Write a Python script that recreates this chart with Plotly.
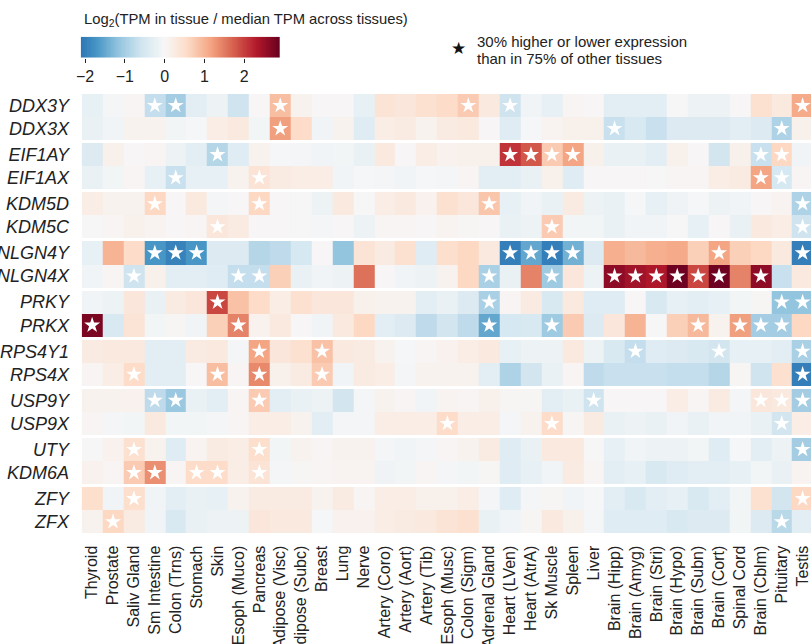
import plotly.graph_objects as go

tissues = ["Thyroid", "Prostate", "Saliv Gland", "Sm Intestine", "Colon (Trns)", "Stomach", "Skin",
           "Esoph (Muco)", "Pancreas", "Adipose (Visc)", "Adipose (Subc)", "Breast", "Lung", "Nerve",
           "Artery (Coro)", "Artery (Aort)", "Artery (Tib)", "Esoph (Musc)", "Colon (Sigm)", "Adrenal Gland",
           "Heart (LVen)", "Heart (AtrA)", "Sk Muscle", "Spleen", "Liver", "Brain (Hipp)", "Brain (Amyg)",
           "Brain (Stri)", "Brain (Hypo)", "Brain (Subn)", "Brain (Cort)", "Spinal Cord", "Brain (Cblm)",
           "Pituitary", "Testis"]

genes = ["DDX3Y", "DDX3X", "EIF1AY", "EIF1AX", "KDM5D", "KDM5C", "NLGN4Y", "NLGN4X", "PRKY", "PRKX",
         "RPS4Y1", "RPS4X", "USP9Y", "USP9X", "UTY", "KDM6A", "ZFY", "ZFX"]

# log2(TPM in tissue / median TPM across tissues), one list per gene, in tissue order
DDX3Y = [-0.25, -0.05, 0.05, -0.7, -1.0, -0.3, -0.15, -0.6, 0.0, 0.9, 0.1, 0.0, 0.0, -0.25, 0.4, 0.35, 0.45, 0.55,
         0.75, 0.3, -0.6, -0.1, -0.25, 0.05, 0.0, -0.3, -0.3, -0.3, -0.02, -0.15, -0.15, 0.0, 0.45, 0.3, 1.1]
DDX3X = [-0.2, -0.1, 0.1, 0.1, -0.08, -0.03, 0.2, 0.3, -0.08, 1.2, 0.55, -0.1, 0.1, -0.35, 0.2, 0.25, 0.1, 0.25,
         0.3, 0.0, -0.35, -0.03, 0.08, 0.15, 0.15, -0.65, -0.45, -0.65, -0.4, -0.4, -0.4, -0.3, -0.4, -0.9, 0.15]
EIF1AY = [-0.4, 0.15, 0.0, 0.05, -0.15, -0.3, -0.85, -0.35, 0.1, -0.03, -0.05, -0.1, -0.08, -0.2, 0.3, 0.0, 0.2,
          0.12, 0.15, 0.15, 2.1, 1.8, 0.75, 1.15, 0.15, -0.2, -0.2, -0.3, 0.15, 0.0, -0.55, 0.15, -0.65, 0.6, -0.1]
EIF1AX = [-0.2, -0.08, 0.05, -0.25, -0.65, -0.25, -0.25, 0.1, 0.4, 0.25, 0.2, 0.2, -0.1, -0.03, -0.05, -0.1, -0.03,
          -0.05, 0.05, -0.3, -0.3, -0.2, 0.15, -0.35, 0.0, 0.0, 0.0, -0.02, 0.05, 0.05, 0.2, 0.25, 1.15, -0.5, 0.05]
KDM5D = [0.2, 0.1, 0.1, 0.6, 0.0, 0.3, -0.05, 0.0, 0.6, 0.0, -0.02, -0.15, 0.3, -0.02, 0.2, 0.3, 0.12, 0.45, 0.35,
         0.8, -0.25, -0.1, -0.2, 0.25, -0.15, -0.2, -0.03, -0.25, -0.12, -0.03, -0.15, -0.1, 0.0, 0.08, -0.9]
KDM5C = [-0.02, 0.05, 0.15, 0.08, 0.0, 0.05, 0.35, 0.25, 0.0, 0.0, -0.02, -0.05, 0.0, -0.15, 0.05, 0.05, 0.0, 0.08,
         0.02, 0.0, -0.2, -0.15, 0.75, -0.08, -0.08, -0.2, -0.1, -0.1, -0.02, -0.25, 0.0, -0.2, 0.3, 0.2, -0.6]
NLGN4Y = [-0.25, 1.0, 0.55, -1.7, -1.95, -1.7, -0.4, -0.4, -0.85, -0.75, -0.5, 0.0, -1.15, 0.4, 0.25, 0.45, -0.35,
          0.5, 0.6, 0.3, -2.0, -1.5, -2.0, -1.4, -0.4, 1.05, 0.95, 1.05, 1.1, 0.7, 1.15, 0.7, 0.6, 0.3, -2.0]
NLGN4X = [-0.1, 0.05, -0.6, 0.15, -0.3, -0.3, -0.35, -0.7, -0.7, 0.7, -0.2, -0.1, -0.15, 1.6, 0.0, -0.1, -0.15,
          0.1, 0.6, -0.95, -0.2, 1.45, -1.05, 0.35, -0.15, 2.6, 2.45, 2.35, 2.85, 1.95, 2.85, 1.45, 2.6, -0.65, 0.3]
PRKY = [-0.1, -0.15, 0.35, -0.2, 0.25, 0.35, 1.95, 0.85, 0.55, 0.2, 0.45, 0.35, 0.35, 0.15, 0.1, 0.1, -0.3, -0.2,
        -0.4, -0.95, 0.05, 0.25, -0.45, 0.3, -0.35, -0.35, 0.0, -0.45, -0.25, -0.3, -0.25, -0.08, 0.03, -1.15, -1.15]
PRKX = [2.75, -0.45, 0.4, -0.08, 0.03, -0.1, 0.7, 1.45, 0.12, 0.3, 0.0, -0.1, 0.3, 0.6, -0.3, -0.4, -0.75, -0.55,
        -0.75, -1.5, -0.5, -0.45, -1.05, 0.75, -0.4, 0.35, 1.0, -0.02, 0.7, 0.95, 0.1, 1.2, -1.0, -1.0, 0.6]
RPS4Y1 = [0.25, 0.3, 0.3, -0.3, -0.3, 0.25, 0.3, -0.05, 1.15, 0.35, 0.45, 0.85, 0.3, 0.25, 0.1, -0.03, 0.05, 0.12,
          0.2, 0.3, -0.25, -0.15, -0.15, 0.3, -0.15, -0.45, -0.7, -0.35, -0.4, -0.45, -0.55, -0.25, -0.25, -0.3, -0.95]
RPS4X = [0.05, 0.2, 0.55, -0.3, -0.3, 0.0, 0.9, 0.05, 1.4, 0.15, 0.25, 0.75, -0.1, 0.25, 0.2, -0.05, 0.1, 0.1, 0.1,
         -0.3, -0.9, -0.55, -0.2, 0.05, -0.75, -0.65, -0.65, -0.65, -0.7, -0.7, -0.85, 0.03, -0.6, 0.45, -2.0]
USP9Y = [0.1, 0.1, 0.12, -0.75, -1.1, -0.2, -0.3, 0.05, 0.75, -0.3, -0.2, -0.15, -0.55, -0.05, 0.1, 0.05, -0.1,
         0.08, 0.05, 0.15, 0.02, 0.02, -0.3, -0.2, -0.6, 0.0, 0.0, 0.0, 0.2, 0.05, 0.25, -0.05, 0.35, 0.3, -1.0]
USP9X = [0.05, -0.05, -0.08, 0.3, -0.08, -0.08, -0.05, 0.05, 0.2, 0.2, 0.1, -0.3, -0.05, -0.05, 0.2, 0.2, 0.2, 0.55,
         0.2, 0.2, -0.05, 0.1, 0.55, 0.02, 0.25, -0.2, -0.15, -0.2, -0.1, -0.2, -0.1, -0.1, -0.2, -0.55, 0.2]
UTY = [-0.02, 0.12, 0.45, 0.1, -0.35, 0.08, 0.25, 0.2, 0.5, -0.08, 0.1, 0.05, 0.1, 0.1, -0.05, -0.1, -0.05, 0.05,
       0.1, 0.25, -0.35, -0.2, 0.3, 0.3, -0.02, -0.25, -0.1, -0.15, -0.15, -0.08, -0.35, -0.03, -0.3, -0.15, -1.0]
KDM6A = [0.12, 0.05, 0.75, 1.35, 0.05, 0.55, 0.55, 0.2, 0.4, -0.05, 0.02, 0.05, 0.08, 0.08, -0.12, -0.08, 0.05,
         -0.05, -0.08, 0.02, -0.35, -0.25, -0.1, 0.25, 0.05, -0.3, -0.25, -0.45, -0.35, -0.3, -0.3, -0.25, -0.08, -0.2, 0.08]
ZFY = [0.5, -0.1, 0.5, -0.1, -0.3, -0.2, -0.25, 0.1, 0.25, 0.25, 0.25, 0.1, 0.25, 0.05, 0.2, 0.2, 0.15, 0.15, 0.2,
       -0.05, -0.35, -0.05, 0.03, -0.1, -0.03, -0.3, -0.45, -0.3, -0.25, -0.45, -0.3, -0.08, 0.45, -0.55, 0.6]
ZFX = [0.1, 0.6, 0.25, -0.1, -0.45, -0.2, -0.15, -0.15, 0.35, 0.3, 0.3, -0.03, 0.12, 0.12, 0.2, 0.25, 0.3, 0.4,
       0.45, -0.2, -0.1, 0.03, 0.3, 0.15, -0.05, -0.35, -0.35, -0.35, -0.45, -0.4, -0.4, -0.08, -0.4, -0.8, -0.3]

# tissue indices marked with a star (30% higher/lower than in 75% of other tissues)
DDX3Y_stars = [3, 4, 9, 18, 20, 34]
DDX3X_stars = [9, 25, 33]
EIF1AY_stars = [6, 20, 21, 22, 23, 32, 33]
EIF1AX_stars = [4, 8, 32, 33]
KDM5D_stars = [3, 8, 19, 34]
KDM5C_stars = [6, 22, 34]
NLGN4Y_stars = [3, 4, 5, 20, 21, 22, 23, 30, 34]
NLGN4X_stars = [2, 7, 8, 19, 22, 25, 26, 27, 28, 29, 30, 32]
PRKY_stars = [6, 19, 33, 34]
PRKX_stars = [0, 7, 19, 22, 29, 31, 32, 33]
RPS4Y1_stars = [8, 11, 26, 30, 34]
RPS4X_stars = [2, 6, 8, 11, 34]
USP9Y_stars = [3, 4, 8, 24, 32, 33, 34]
USP9X_stars = [17, 22, 33]
UTY_stars = [2, 8, 34]
KDM6A_stars = [2, 3, 5, 6, 8]
ZFY_stars = [2, 34]
ZFX_stars = [1, 33]

cbar_ticks = [-2, -1, 0, 1, 2]
cbar_ticktext = ["\u22122", "\u22121", "0", "1", "2"]

values = [DDX3Y, DDX3X, EIF1AY, EIF1AX, KDM5D, KDM5C, NLGN4Y, NLGN4X, PRKY, PRKX,
          RPS4Y1, RPS4X, USP9Y, USP9X, UTY, KDM6A, ZFY, ZFX]
stars = [DDX3Y_stars, DDX3X_stars, EIF1AY_stars, EIF1AX_stars, KDM5D_stars, KDM5C_stars, NLGN4Y_stars,
         NLGN4X_stars, PRKY_stars, PRKX_stars, RPS4Y1_stars, RPS4X_stars, USP9Y_stars, USP9X_stars,
         UTY_stars, KDM6A_stars, ZFY_stars, ZFX_stars]

# ---- colour scale: RdBu_r symmetric about 0, truncated at the low end ----
VMIN, VMAX = -2.11, 2.9
RDBU_R = [(5, 48, 97), (33, 102, 172), (67, 147, 195), (146, 197, 222), (209, 229, 240), (247, 247, 247),
          (253, 219, 199), (244, 165, 130), (214, 96, 77), (178, 24, 43), (103, 0, 31)]


def rdbu_at(p):
    p = min(max(p, 0.0), 1.0) * (len(RDBU_R) - 1)
    i = min(int(p), len(RDBU_R) - 2)
    f = p - i
    a, b = RDBU_R[i], RDBU_R[i + 1]
    return "rgb(%d,%d,%d)" % tuple(round(a[k] + (b[k] - a[k]) * f) for k in range(3))


NS = 60
colorscale = []
for k in range(NS + 1):
    v = VMIN + (VMAX - VMIN) * k / NS
    colorscale.append([k / NS, rdbu_at((v + VMAX) / (2 * VMAX))])

# ---- layout of rows: pairs separated by a thin gap ----
GAP = 0.13
z, edges, centers = [], [0.0], []
pos = 0.0
for i, row in enumerate(values):
    if i > 0 and i % 2 == 0:
        z.append([None] * len(tissues))
        pos += GAP
        edges.append(pos)
    z.append(row)
    centers.append(pos + 0.5)
    pos += 1.0
    edges.append(pos)
total = pos

W, H = 811, 644


def fx(xp):
    return xp / W


def fy(yp):
    return 1 - yp / H


FONT = "Liberation Sans, Arial, Helvetica, sans-serif"

fig = go.Figure()
fig.add_trace(go.Heatmap(
    z=z, x=list(range(len(tissues))), y=edges, xaxis="x", yaxis="y",
    colorscale=colorscale, zmin=VMIN, zmax=VMAX, hoverongaps=False, showscale=False,
))

sx, sy = [], []
for r, cols in enumerate(stars):
    for c in cols:
        sx.append(c)
        sy.append(centers[r])
fig.add_trace(go.Scatter(
    x=sx, y=sy, mode="markers", hoverinfo="skip", xaxis="x", yaxis="y",
    marker=dict(symbol="star", size=12, color="white", line=dict(width=0)),
    showlegend=False,
))

# colour key: the same colour scale drawn as a one-row ramp on its own small axis
NRAMP = 240
ramp_edges = [VMIN + (VMAX - VMIN) * k / NRAMP for k in range(NRAMP + 1)]
ramp_vals = [(ramp_edges[k] + ramp_edges[k + 1]) / 2 for k in range(NRAMP)]
fig.add_trace(go.Heatmap(
    z=[ramp_vals], x=ramp_edges, y=[0], xaxis="x2", yaxis="y2",
    colorscale=colorscale, zmin=VMIN, zmax=VMAX, showscale=False, hoverinfo="skip",
))

fig.update_layout(
    width=W, height=H, autosize=False,
    margin=dict(l=0, r=0, t=0, b=0, pad=0),
    paper_bgcolor="white", plot_bgcolor="white",
    font=dict(family=FONT, color="#222"),
    showlegend=False,
    xaxis=dict(domain=[fx(81.7), 1.0], range=[-0.5, 34.4], tickvals=list(range(len(tissues))),
               ticktext=tissues, tickangle=-90, tickfont=dict(size=16, color="#222"),
               ticks="outside", ticklen=5, tickcolor="rgba(0,0,0,0)", showgrid=False,
               zeroline=False, showline=False, automargin=False, anchor="y"),
    yaxis=dict(domain=[fy(533.3), fy(94)], range=[total, 0], tickvals=centers,
               ticktext=["<i>%s</i>" % g for g in genes], tickfont=dict(size=18, color="#222"),
               ticks="outside", ticklen=8, tickcolor="rgba(0,0,0,0)", showgrid=False,
               zeroline=False, showline=False, automargin=False, anchor="x"),
    xaxis2=dict(domain=[fx(80.7), fx(280)], range=[VMIN, VMAX], tickvals=cbar_ticks,
                ticktext=cbar_ticktext, tickfont=dict(size=16, color="#222"), ticks="outside",
                ticklen=4, tickwidth=1.3, tickcolor="#222", showgrid=False, zeroline=False,
                showline=False, automargin=False, anchor="y2", fixedrange=True),
    yaxis2=dict(domain=[fy(57.7), fy(36.7)], range=[-0.5, 0.5], visible=False,
                automargin=False, anchor="x2", fixedrange=True),
    annotations=[
        dict(xref="paper", yref="paper", x=fx(81.7), y=fy(20), xanchor="left", yanchor="middle",
             text="Log<sub>2</sub>(TPM in tissue / median TPM across tissues)", showarrow=False,
             font=dict(size=14.8, color="#222")),
        dict(xref="paper", yref="paper", x=fx(458), y=fy(48.3), xanchor="center", yanchor="middle",
             text="\u2605", showarrow=False, font=dict(size=17, color="#111", family="DejaVu Sans")),
        dict(xref="paper", yref="paper", x=fx(475), y=fy(41.7), xanchor="left", yanchor="middle",
             text="30% higher or lower expression", showarrow=False, font=dict(size=15, color="#222")),
        dict(xref="paper", yref="paper", x=fx(475), y=fy(58.3), xanchor="left", yanchor="middle",
             text="than in 75% of other tissues", showarrow=False, font=dict(size=15, color="#222")),
    ],
)

# remove the browser's default 8px page margin so the figure sits at the window's corner
fig.write_html("out.html", config={"displayModeBar": False},
               post_script="document.body.style.margin='0';")
